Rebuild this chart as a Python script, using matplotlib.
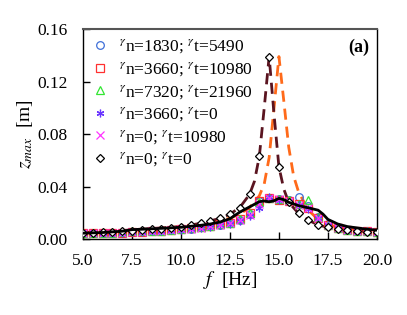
import matplotlib
matplotlib.use("Agg")
import matplotlib.pyplot as plt

plt.rcParams['font.family'] = ['Liberation Serif', 'DejaVu Serif']
plt.rcParams['mathtext.fontset'] = 'stix'

# frequency grid of the measured points [Hz]
f = [5.0, 5.5, 6.0, 6.5, 7.0, 7.5, 8.0, 8.5, 9.0, 9.5, 10.0, 10.5, 11.0, 11.5, 12.0, 12.5,
     13.0, 13.5, 14.0, 14.5, 15.0, 15.5, 16.0, 16.5, 17.0, 17.5, 18.0, 18.5, 19.0, 19.5, 20.0]

z_1830_5490 = [0.0045, 0.0045, 0.0046, 0.0047, 0.0049, 0.0053, 0.0056, 0.0059, 0.0062, 0.0067, 0.0074,
               0.0080, 0.0089, 0.0098, 0.0110, 0.0123, 0.0148, 0.0190, 0.0290, 0.0315, 0.0305, 0.0300,
               0.0320, 0.0250, 0.0170, 0.0112, 0.0088, 0.0072, 0.0064, 0.0060, 0.0056]
z_3660_10980 = [0.0046, 0.0046, 0.0047, 0.0048, 0.0050, 0.0055, 0.0057, 0.0060, 0.0063, 0.0068, 0.0075,
                0.0081, 0.0090, 0.0099, 0.0112, 0.0125, 0.0150, 0.0195, 0.0290, 0.0310, 0.0300, 0.0290,
                0.0265, 0.0240, 0.0160, 0.0108, 0.0086, 0.0070, 0.0063, 0.0059, 0.0055]
z_7320_21960 = [0.0047, 0.0047, 0.0048, 0.0049, 0.0052, 0.0058, 0.0058, 0.0061, 0.0064, 0.0069, 0.0078,
                0.0082, 0.0092, 0.0100, 0.0113, 0.0126, 0.0152, 0.0195, 0.0285, 0.0310, 0.0305, 0.0295,
                0.0270, 0.0300, 0.0165, 0.0110, 0.0087, 0.0071, 0.0064, 0.0060, 0.0056]
z_3660_0 = [0.0044, 0.0044, 0.0045, 0.0046, 0.0048, 0.0052, 0.0055, 0.0058, 0.0061, 0.0066, 0.0072,
            0.0078, 0.0087, 0.0095, 0.0105, 0.0118, 0.0140, 0.0175, 0.0240, 0.0320, 0.0300, 0.0285,
            0.0260, 0.0230, 0.0160, 0.0106, 0.0084, 0.0069, 0.0062, 0.0058, 0.0054]
z_0_10980 = [0.0045, 0.0045, 0.0046, 0.0047, 0.0049, 0.0054, 0.0056, 0.0059, 0.0062, 0.0067, 0.0073,
             0.0079, 0.0088, 0.0097, 0.0108, 0.0120, 0.0145, 0.0185, 0.0270, 0.0315, 0.0305, 0.0290,
             0.0262, 0.0235, 0.0162, 0.0108, 0.0086, 0.0070, 0.0063, 0.0059, 0.0055]
z_0_0 = [0.0050, 0.0050, 0.0052, 0.0055, 0.0060, 0.0065, 0.0070, 0.0075, 0.0080, 0.0088, 0.0095,
         0.0107, 0.0120, 0.0137, 0.0158, 0.0190, 0.0240, 0.0345, 0.0630, 0.1390, 0.0550, 0.0280,
         0.0196, 0.0145, 0.0107, 0.0089, 0.0074, 0.0068, 0.0060, 0.0055, 0.0055]

# black solid curve
f_line = [5.0, 6.0, 7.0, 7.5, 8.0, 9.0, 10.0, 11.0, 11.5, 12.0, 12.5, 13.0, 13.5, 14.0, 14.25, 14.5,
          14.75, 15.0, 15.25, 15.5, 16.0, 16.5, 17.0, 17.25, 17.5, 18.0, 18.5, 19.0, 19.5, 20.0]
z_line = [0.0045, 0.0050, 0.0060, 0.0072, 0.0075, 0.0082, 0.0090, 0.0105, 0.0115, 0.0130, 0.0155,
          0.0205, 0.0245, 0.0285, 0.0290, 0.0284, 0.0292, 0.0310, 0.0300, 0.0280, 0.0255, 0.0238,
          0.0220, 0.0190, 0.0150, 0.0115, 0.0095, 0.0085, 0.0075, 0.0068]

# orange dashed curve (peak at 15 Hz)
f_orange = [5, 6, 7, 8, 9, 10, 11, 12, 12.5, 13, 13.5, 14, 14.25, 14.5, 14.75, 15, 15.25, 15.5,
            15.75, 16, 16.5, 17, 17.5, 18, 19, 20]
z_orange = [0.005, 0.0055, 0.006, 0.007, 0.008, 0.0095, 0.011, 0.014, 0.016, 0.019, 0.024, 0.033,
            0.042, 0.062, 0.100, 0.139, 0.105, 0.070, 0.048, 0.036, 0.022, 0.015, 0.011, 0.009,
            0.007, 0.006]

# maroon dashed curve (peak at 14.5 Hz)
f_maroon = [5, 6, 7, 8, 9, 10, 11, 12, 12.5, 13, 13.5, 13.75, 14, 14.25, 14.5, 14.75, 15, 15.25,
            15.5, 16, 16.5, 17, 17.5, 18, 19, 20]
z_maroon = [0.005, 0.0055, 0.0065, 0.0075, 0.0085, 0.0095, 0.012, 0.0158, 0.019, 0.024, 0.034,
            0.044, 0.063, 0.100, 0.139, 0.095, 0.055, 0.038, 0.028, 0.0196, 0.0145, 0.0107, 0.0089,
            0.0074, 0.006, 0.0055]

fig = plt.figure(figsize=(4.07, 3.15), dpi=100)
ax = fig.add_axes([0.204, 0.241, 0.722, 0.667])

ax.plot(f_orange, z_orange, color='#FF6A1A', lw=2, dashes=(4, 2.5), zorder=2)
ax.plot(f_maroon, z_maroon, color='#5A1420', lw=2, dashes=(4, 2.5), zorder=2)

ms = 5.5
ax.plot(f, z_1830_5490, 'o', mfc='none', mec='#3F6FD8', ms=ms, mew=0.9, label=r'${}^{\gamma}$n=1830; ${}^{\gamma}$t=5490', zorder=3)
ax.plot(f, z_3660_10980, 's', mfc='none', mec='#FF3030', ms=ms, mew=0.9, label=r'${}^{\gamma}$n=3660; ${}^{\gamma}$t=10980', zorder=3)
ax.plot(f, z_7320_21960, '^', mfc='none', mec='#33E633', ms=ms, mew=0.9, label=r'${}^{\gamma}$n=7320; ${}^{\gamma}$t=21960', zorder=3)
ax.plot(f, z_3660_0, marker=(6, 2, 0), ls='none', color='#6A35FF', ms=ms, mew=0.9, label=r'${}^{\gamma}$n=3660; ${}^{\gamma}$t=0', zorder=3)
ax.plot(f, z_0_10980, 'x', color='#FF33FF', ms=ms, mew=0.9, label=r'${}^{\gamma}$n=0; ${}^{\gamma}$t=10980', zorder=3)
ax.plot(f, z_0_0, 'D', mfc='white', mec='black', ms=4.5, mew=0.9, label=r'${}^{\gamma}$n=0; ${}^{\gamma}$t=0', zorder=4)

ax.plot(f_line, z_line, color='black', lw=2, zorder=5)

ax.set_xlim(5, 20)
ax.set_ylim(0, 0.16)
ax.set_xticks([5, 7.5, 10, 12.5, 15, 17.5, 20])
ax.set_xticklabels(['5.0', '7.5', '10.0', '12.5', '15.0', '17.5', '20.0'])
ax.set_yticks([0, 0.04, 0.08, 0.12, 0.16])
ax.set_yticklabels(['0.00', '0.04', '0.08', '0.12', '0.16'])
ax.tick_params(direction='in', length=5, width=1, labelsize=12.5)
ax.tick_params(axis='x', pad=10)
ax.tick_params(axis='y', pad=11)
ax.set_xlabel(r'$f$  [Hz]', fontsize=14, labelpad=0)
ax.set_ylabel(r'$z_{max}$  [m]', fontsize=14, labelpad=2)

for s in ax.spines.values():
    s.set_linewidth(1.0)
ax.spines['top'].set_color('#555555')
ax.spines['top'].set_linewidth(1.5)

ax.text(0.975, 0.955, '(a)', transform=ax.transAxes, ha='right', va='top', fontsize=13, fontweight='bold')

ax.legend(loc='upper left', frameon=False, fontsize=12.5, handlelength=1.0, handletextpad=0.6,
          labelspacing=0.28, borderaxespad=0.2, borderpad=0.3)

fig.savefig('out.png', dpi=100)
